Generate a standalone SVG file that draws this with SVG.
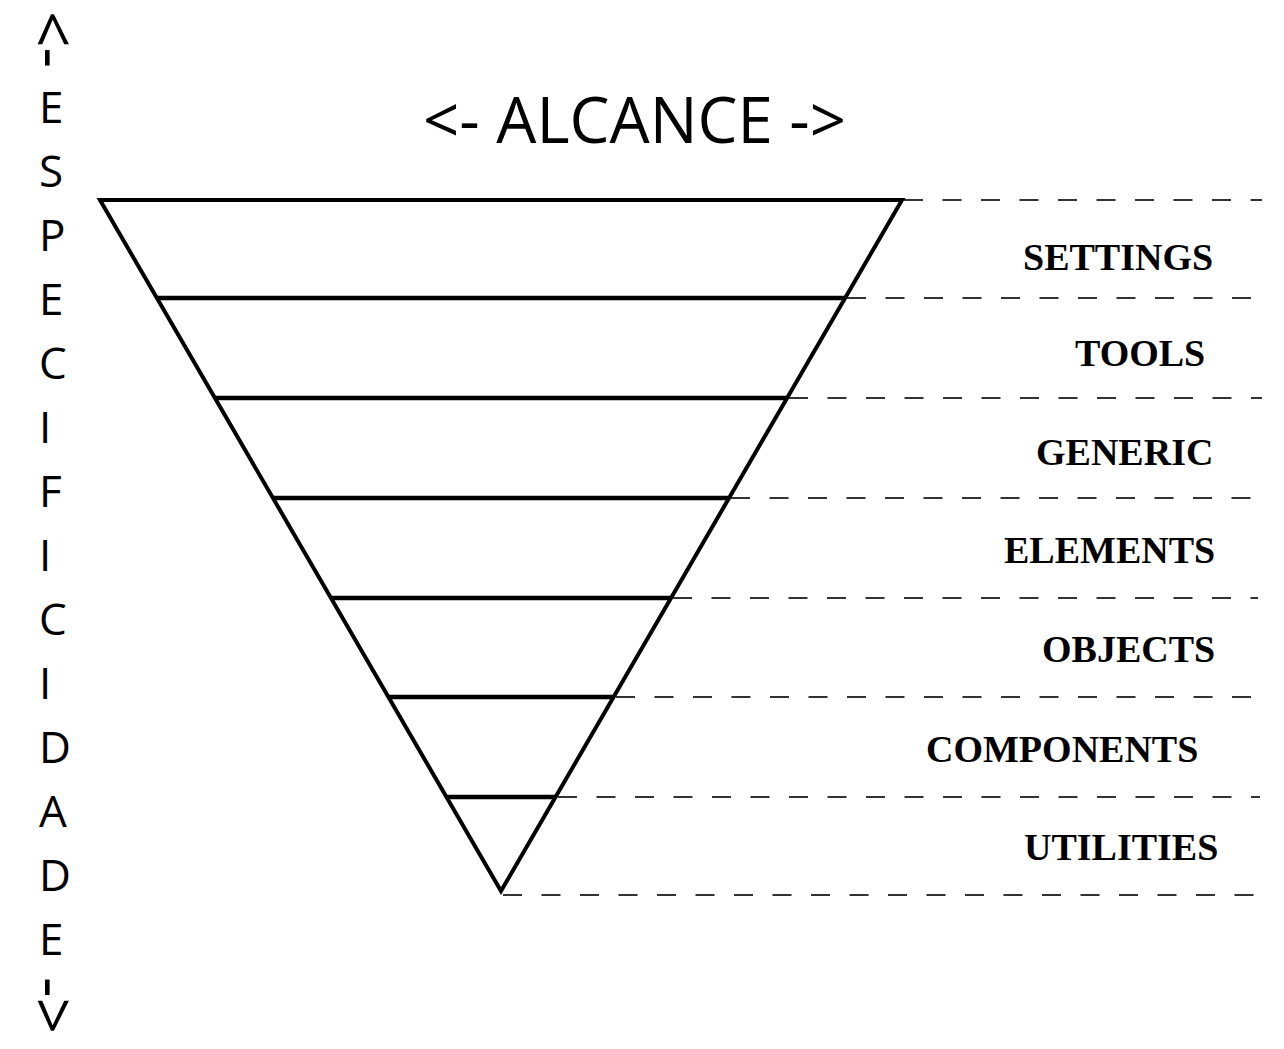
<svg xmlns="http://www.w3.org/2000/svg" width="1284" height="1049" viewBox="0 0 1284 1049">
  <style>
    .sans { font-family: "Open Sans", "Noto Sans", "Liberation Sans", sans-serif; fill: #000; }
    .axis { font-size: 44px; }
    .title { font-size: 64px; }
    .label { font-family: "Liberation Serif", "Times New Roman", serif; font-weight: bold; font-size: 38px; fill: #000; }
    .edge { fill: none; stroke: #000; stroke-width: 4; stroke-linejoin: miter; stroke-miterlimit: 10; }
    .band { stroke: #000; stroke-width: 4.5; }
    .guide { stroke: #333; stroke-width: 2; stroke-dasharray: 19 19.5; fill: none; }
  </style>
  <rect width="1284" height="1049" fill="#fff"/>

  <g id="axis-especificidade">
    <text class="sans title" transform="translate(30,11) rotate(90)" x="0" y="0">&lt;-</text>
    <text class="sans axis" x="39" y="123">E</text>
    <text class="sans axis" x="39" y="187">S</text>
    <text class="sans axis" x="39" y="251">P</text>
    <text class="sans axis" x="39" y="315">E</text>
    <text class="sans axis" x="39" y="379">C</text>
    <text class="sans axis" x="39" y="443">I</text>
    <text class="sans axis" x="39" y="507">F</text>
    <text class="sans axis" x="39" y="571">I</text>
    <text class="sans axis" x="39" y="635">C</text>
    <text class="sans axis" x="39" y="699">I</text>
    <text class="sans axis" x="39" y="763">D</text>
    <text class="sans axis" x="39" y="827">A</text>
    <text class="sans axis" x="39" y="891">D</text>
    <text class="sans axis" x="39" y="955">E</text>
    <text class="sans title" transform="translate(30,977) rotate(90)" x="0" y="0">-&gt;</text>
  </g>

  <g id="title-alcance">
    <text class="sans title" x="423" y="143" textLength="423" lengthAdjust="spacingAndGlyphs">&lt;- ALCANCE -&gt;</text>
  </g>

  <g id="connectors">
    <line class="guide" x1="904" y1="200" x2="1262" y2="200"/>
    <line class="guide" x1="847" y1="298" x2="1267" y2="298"/>
    <line class="guide" x1="789" y1="398" x2="1262" y2="398"/>
    <line class="guide" x1="731" y1="498" x2="1258" y2="498"/>
    <line class="guide" x1="673" y1="598" x2="1258" y2="598"/>
    <line class="guide" x1="616" y1="697" x2="1260" y2="697"/>
    <line class="guide" x1="558" y1="797" x2="1260" y2="797"/>
    <line class="guide" x1="503" y1="895" x2="1267" y2="895"/>
  </g>

  <g id="pyramid">
    <polygon class="edge" points="100,200 902,200 501,891"/>
    <line class="band" x1="157" y1="298" x2="845" y2="298"/>
    <line class="band" x1="215" y1="398" x2="787" y2="398"/>
    <line class="band" x1="273" y1="498" x2="729" y2="498"/>
    <line class="band" x1="331" y1="598" x2="671" y2="598"/>
    <line class="band" x1="388" y1="697" x2="614" y2="697"/>
    <line class="band" x1="446" y1="797" x2="556" y2="797"/>
  </g>

  <g id="node-settings"><text class="label" x="1023" y="270">SETTINGS</text></g>
  <g id="node-tools"><text class="label" x="1075" y="366">TOOLS</text></g>
  <g id="node-generic"><text class="label" x="1036" y="465">GENERIC</text></g>
  <g id="node-elements"><text class="label" x="1004" y="563">ELEMENTS</text></g>
  <g id="node-objects"><text class="label" x="1042" y="662">OBJECTS</text></g>
  <g id="node-components"><text class="label" x="926" y="762">COMPONENTS</text></g>
  <g id="node-utilities"><text class="label" x="1024" y="860">UTILITIES</text></g>
</svg>
